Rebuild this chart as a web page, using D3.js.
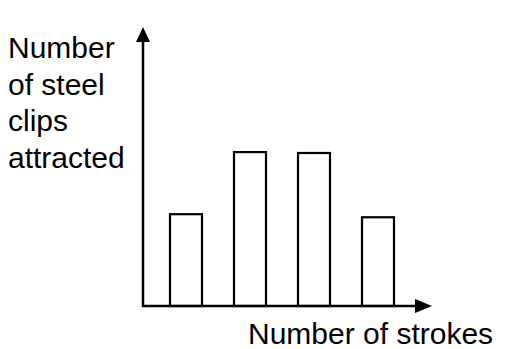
<!DOCTYPE html>
<html>
<head>
<meta charset="utf-8">
<script src="https://cdn.jsdelivr.net/npm/d3@7"></script>
<style>
  body { margin: 0; background: #fff; }
  text { font-family: "Liberation Sans", Arial, sans-serif; fill: #000; }
</style>
</head>
<body>
<div id="vis"></div>
<script>
// data (no tick labels shown, values are relative)
var strokes = ["1", "2", "3", "4"];
var clips = [3.0, 5.03, 5.0, 2.9];
var yLabelLines = ["Number", "of steel", "clips", "attracted"];
var xLabel = "Number of strokes";

var width = 509;
var height = 349;

var svg = d3.select('#vis')
  .append('svg')
  .attr('width', width)
  .attr('height', height);

// origin of the axes
var x0 = 143, y0 = 306;

var x = d3.scaleBand()
  .domain(strokes)
  .range([154, 410])
  .paddingInner(0.5)
  .paddingOuter(0.25);

var y = d3.scaleLinear()
  .domain([0, 10])
  .range([y0, 0]);

// bars
svg.selectAll('.bar')
  .data(strokes)
  .enter().append('rect')
  .attr('class', 'bar')
  .attr('x', function (d) { return x(d); })
  .attr('y', function (d, i) { return y(clips[i]); })
  .attr('width', x.bandwidth())
  .attr('height', function (d, i) { return y0 - y(clips[i]); })
  .attr('fill', 'none')
  .attr('stroke', '#000')
  .attr('stroke-width', 2.2);

// axes
var yTop = 27, xEnd = 432;
svg.append('line')
  .attr('x1', x0).attr('y1', y0 + 1)
  .attr('x2', x0).attr('y2', yTop + 8)
  .attr('stroke', '#000').attr('stroke-width', 2.5);
svg.append('line')
  .attr('x1', x0 - 1).attr('y1', y0)
  .attr('x2', xEnd - 8).attr('y2', y0)
  .attr('stroke', '#000').attr('stroke-width', 2.5);

// arrow heads
svg.append('path')
  .attr('d', d3.line()([[x0, yTop], [x0 + 7, yTop + 15], [x0 - 7, yTop + 15]]) + 'Z')
  .attr('fill', '#000');
svg.append('path')
  .attr('d', d3.line()([[xEnd, y0], [xEnd - 17, y0 - 7], [xEnd - 17, y0 + 7]]) + 'Z')
  .attr('fill', '#000');

// labels
svg.append('text')
  .attr('x', 8)
  .attr('y', 58)
  .style('font-size', '30px')
  .selectAll('tspan')
  .data(yLabelLines)
  .enter().append('tspan')
  .attr('x', 8)
  .attr('dy', function (d, i) { return i === 0 ? 0 : 36.7; })
  .text(function (d) { return d; });

svg.append('text')
  .attr('x', 248)
  .attr('y', 344)
  .style('font-size', '30px')
  .text(xLabel);
</script>
</body>
</html>
